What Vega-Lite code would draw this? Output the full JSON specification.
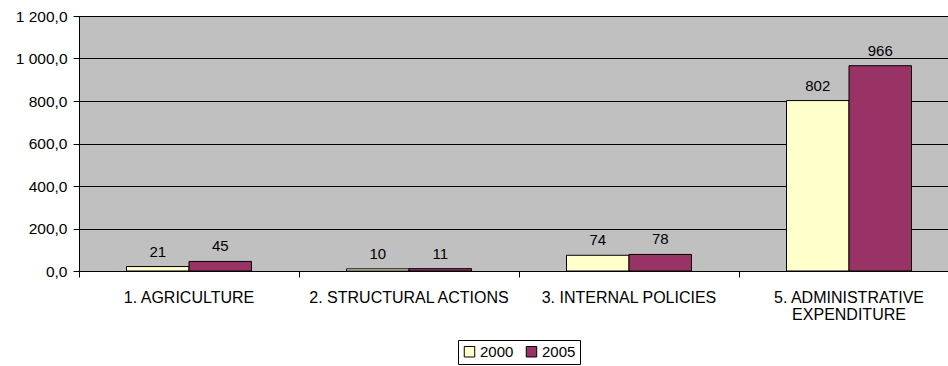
{
  "$schema": "https://vega.github.io/schema/vega-lite/v6.json",
  "width": 880,
  "height": 255,
  "autosize": {"type": "none"},
  "padding": {"left": 79, "top": 16, "right": 0, "bottom": 95},
  "background": "white",
  "config": {
    "font": "Liberation Sans",
    "view": {"fill": "#C0C0C0", "stroke": "#808080", "strokeWidth": 1}
  },
  "data": {
    "values": [
      {"category": "1. AGRICULTURE", "year": "2000", "value": 21},
      {"category": "1. AGRICULTURE", "year": "2005", "value": 45},
      {"category": "2. STRUCTURAL ACTIONS", "year": "2000", "value": 10},
      {"category": "2. STRUCTURAL ACTIONS", "year": "2005", "value": 11},
      {"category": "3. INTERNAL POLICIES", "year": "2000", "value": 74},
      {"category": "3. INTERNAL POLICIES", "year": "2005", "value": 78},
      {"category": "5. ADMINISTRATIVE EXPENDITURE", "year": "2000", "value": 802},
      {"category": "5. ADMINISTRATIVE EXPENDITURE", "year": "2005", "value": 966}
    ]
  },
  "encoding": {
    "x": {
      "field": "category",
      "type": "nominal",
      "sort": null,
      "scale": {"paddingInner": 0, "paddingOuter": 0},
      "axis": {
        "title": null,
        "labelAngle": 0,
        "labelFontSize": 16,
        "labelColor": "black",
        "labelPadding": 12,
        "labelLimit": 0,
        "labelExpr": "datum.value == '5. ADMINISTRATIVE EXPENDITURE' ? ['5. ADMINISTRATIVE', 'EXPENDITURE'] : datum.label",
        "labelLineHeight": 17.5,
        "domainColor": "black",
        "tickColor": "black",
        "tickSize": 6,
        "bandPosition": 1,
        "tickExtra": true,
        "grid": false
      }
    },
    "xOffset": {
      "field": "year",
      "type": "nominal",
      "scale": {"paddingInner": 0, "paddingOuter": 0.76}
    },
    "y": {
      "field": "value",
      "type": "quantitative",
      "scale": {"domain": [0, 1200], "nice": false},
      "axis": {
        "title": null,
        "values": [0, 200, 400, 600, 800, 1000, 1200],
        "labelExpr": "replace(replace(format(datum.value, ',.1f'), ',', ' '), '.', ',')",
        "labelFontSize": 15.5,
        "labelColor": "black",
        "labelPadding": 6,
        "domainColor": "black",
        "tickColor": "black",
        "tickSize": 6,
        "gridColor": "black",
        "gridOpacity": 1,
        "gridWidth": 1
      }
    }
  },
  "layer": [
    {
      "mark": {"type": "bar", "stroke": "black", "strokeWidth": 1},
      "encoding": {
        "color": {
          "field": "year",
          "type": "nominal",
          "scale": {"domain": ["2000", "2005"], "range": ["#FFFFCC", "#993366"]},
          "legend": {
            "title": null,
            "orient": "none",
            "direction": "horizontal",
            "legendX": 379,
            "legendY": 324,
            "symbolType": "square",
            "symbolSize": 110,
            "symbolStrokeColor": "black",
            "symbolStrokeWidth": 1,
            "symbolOpacity": 1,
            "labelFontSize": 15,
            "labelColor": "black",
            "labelOffset": 3,
            "columnPadding": 10,
            "padding": 4,
            "strokeColor": "black"
          }
        }
      }
    },
    {
      "mark": {"type": "text", "baseline": "alphabetic", "dy": -10, "fontSize": 15, "color": "black"},
      "encoding": {
        "text": {"field": "value", "type": "quantitative", "format": "d"}
      }
    }
  ]
}
